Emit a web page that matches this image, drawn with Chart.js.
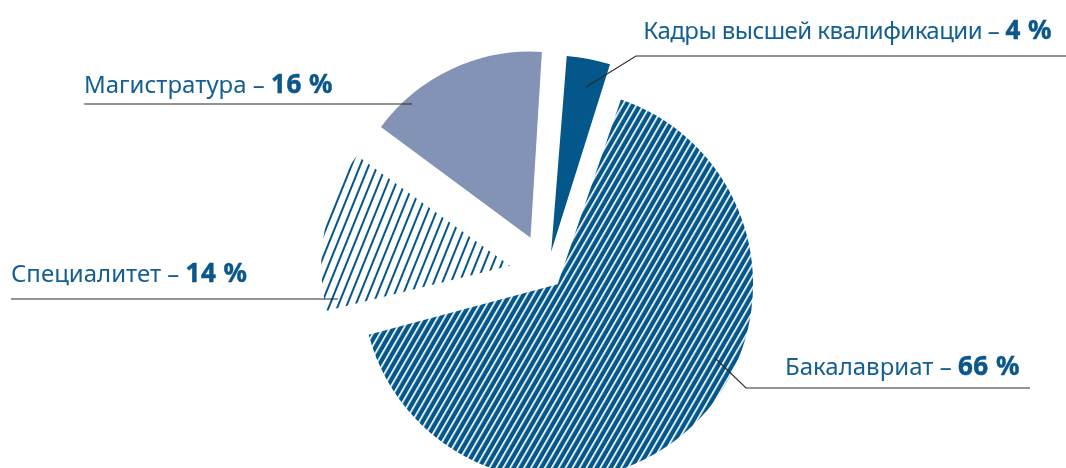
<!DOCTYPE html>
<html lang="ru">
<head>
<meta charset="utf-8">
<script src="https://cdn.jsdelivr.net/npm/chart.js@4.4.1/dist/chart.umd.min.js"></script>
<style>
    html, body { margin: 0; padding: 0; background: #fff; overflow: hidden; }
    #wrap { position: relative; width: 1066px; height: 546px; }
    .lbl {
        position: absolute; white-space: nowrap;
        font-family: "Noto Sans", sans-serif; font-size: 24px; line-height: 0;
        color: #135f92;
    }
    .lbl b {
        font-weight: 700; font-size: 26px; letter-spacing: 0.5px; color: #0b568b;
        -webkit-text-stroke: 0.5px #0b568b;
    }
    .tight { letter-spacing: -0.55px; }
</style>
</head>
<body>
<div id="wrap">
    <canvas id="chart"></canvas>
    <div class="lbl" style="right:14px; top:29px"><span class="tight">Кадры высшей квалификации –</span> <b>4 %</b></div>
    <div class="lbl" style="left:84px; top:83px">Магистратура – <b>16 %</b></div>
    <div class="lbl" style="left:11px; top:272px">Специалитет – <b>14 %</b></div>
    <div class="lbl" style="left:785px; top:365px">Бакалавриат – <b>66 %</b></div>
</div>
<script>
const labels = ['Бакалавриат', 'Специалитет', 'Магистратура', 'Кадры высшей квалификации'];
const shares = [66, 14, 16, 4];

const BLUE = '#03578b';
const GREY_BLUE = '#8393b5';

// diagonal hatch: stripe of width lw every period px, turned by angle degrees
function hatch(bg, fg, period, lw, angle) {
    const c = document.createElement('canvas');
    c.width = period; c.height = 8;
    const g = c.getContext('2d');
    g.fillStyle = bg;
    g.fillRect(0, 0, period, 8);
    g.fillStyle = fg;
    g.fillRect(0, 0, lw, 8);
    const p = g.createPattern(c, 'repeat');
    p.setTransform(new DOMMatrix().rotate(angle));
    return p;
}

// leader lines (page points), same order as labels
const leaders = [
    [[715, 358], [746, 388], [1030, 388]],
    [[338, 299], [11, 299]],
    [[412, 104], [84, 104]],
    [[586, 87], [636, 56], [1066, 56]],
];

const leaderPlugin = {
    id: 'leaders',
    afterDraw(chart) {
        const ctx = chart.ctx;
        ctx.save();
        ctx.strokeStyle = '#2a2a2a';
        ctx.lineWidth = 1.1;
        leaders.forEach(pts => {
            ctx.beginPath();
            ctx.moveTo(pts[0][0], pts[0][1]);
            pts.slice(1).forEach(p => ctx.lineTo(p[0], p[1]));
            ctx.stroke();
        });
        ctx.restore();
    }
};

new Chart(document.getElementById('chart'), {
    type: 'pie',
    data: {
        labels,
        datasets: [{
            data: shares,
            backgroundColor: [
                hatch(BLUE, '#fff', 6.3, 1.7, 30),
                hatch('#fff', BLUE, 8.3, 2, 22),
                GREY_BLUE,
                BLUE
            ],
            borderWidth: 0,
            offset: [62, 151, 156, 87],
            hoverOffset: 0
        }]
    },
    options: {
        responsive: true,
        maintainAspectRatio: false,
        animation: false,
        events: [],
        rotation: 18.2,
        radius: 180,
        layout: {padding: {left: 28}},
        plugins: {legend: {display: false}, tooltip: {enabled: false}}
    },
    plugins: [leaderPlugin]
});
</script>
</body>
</html>
